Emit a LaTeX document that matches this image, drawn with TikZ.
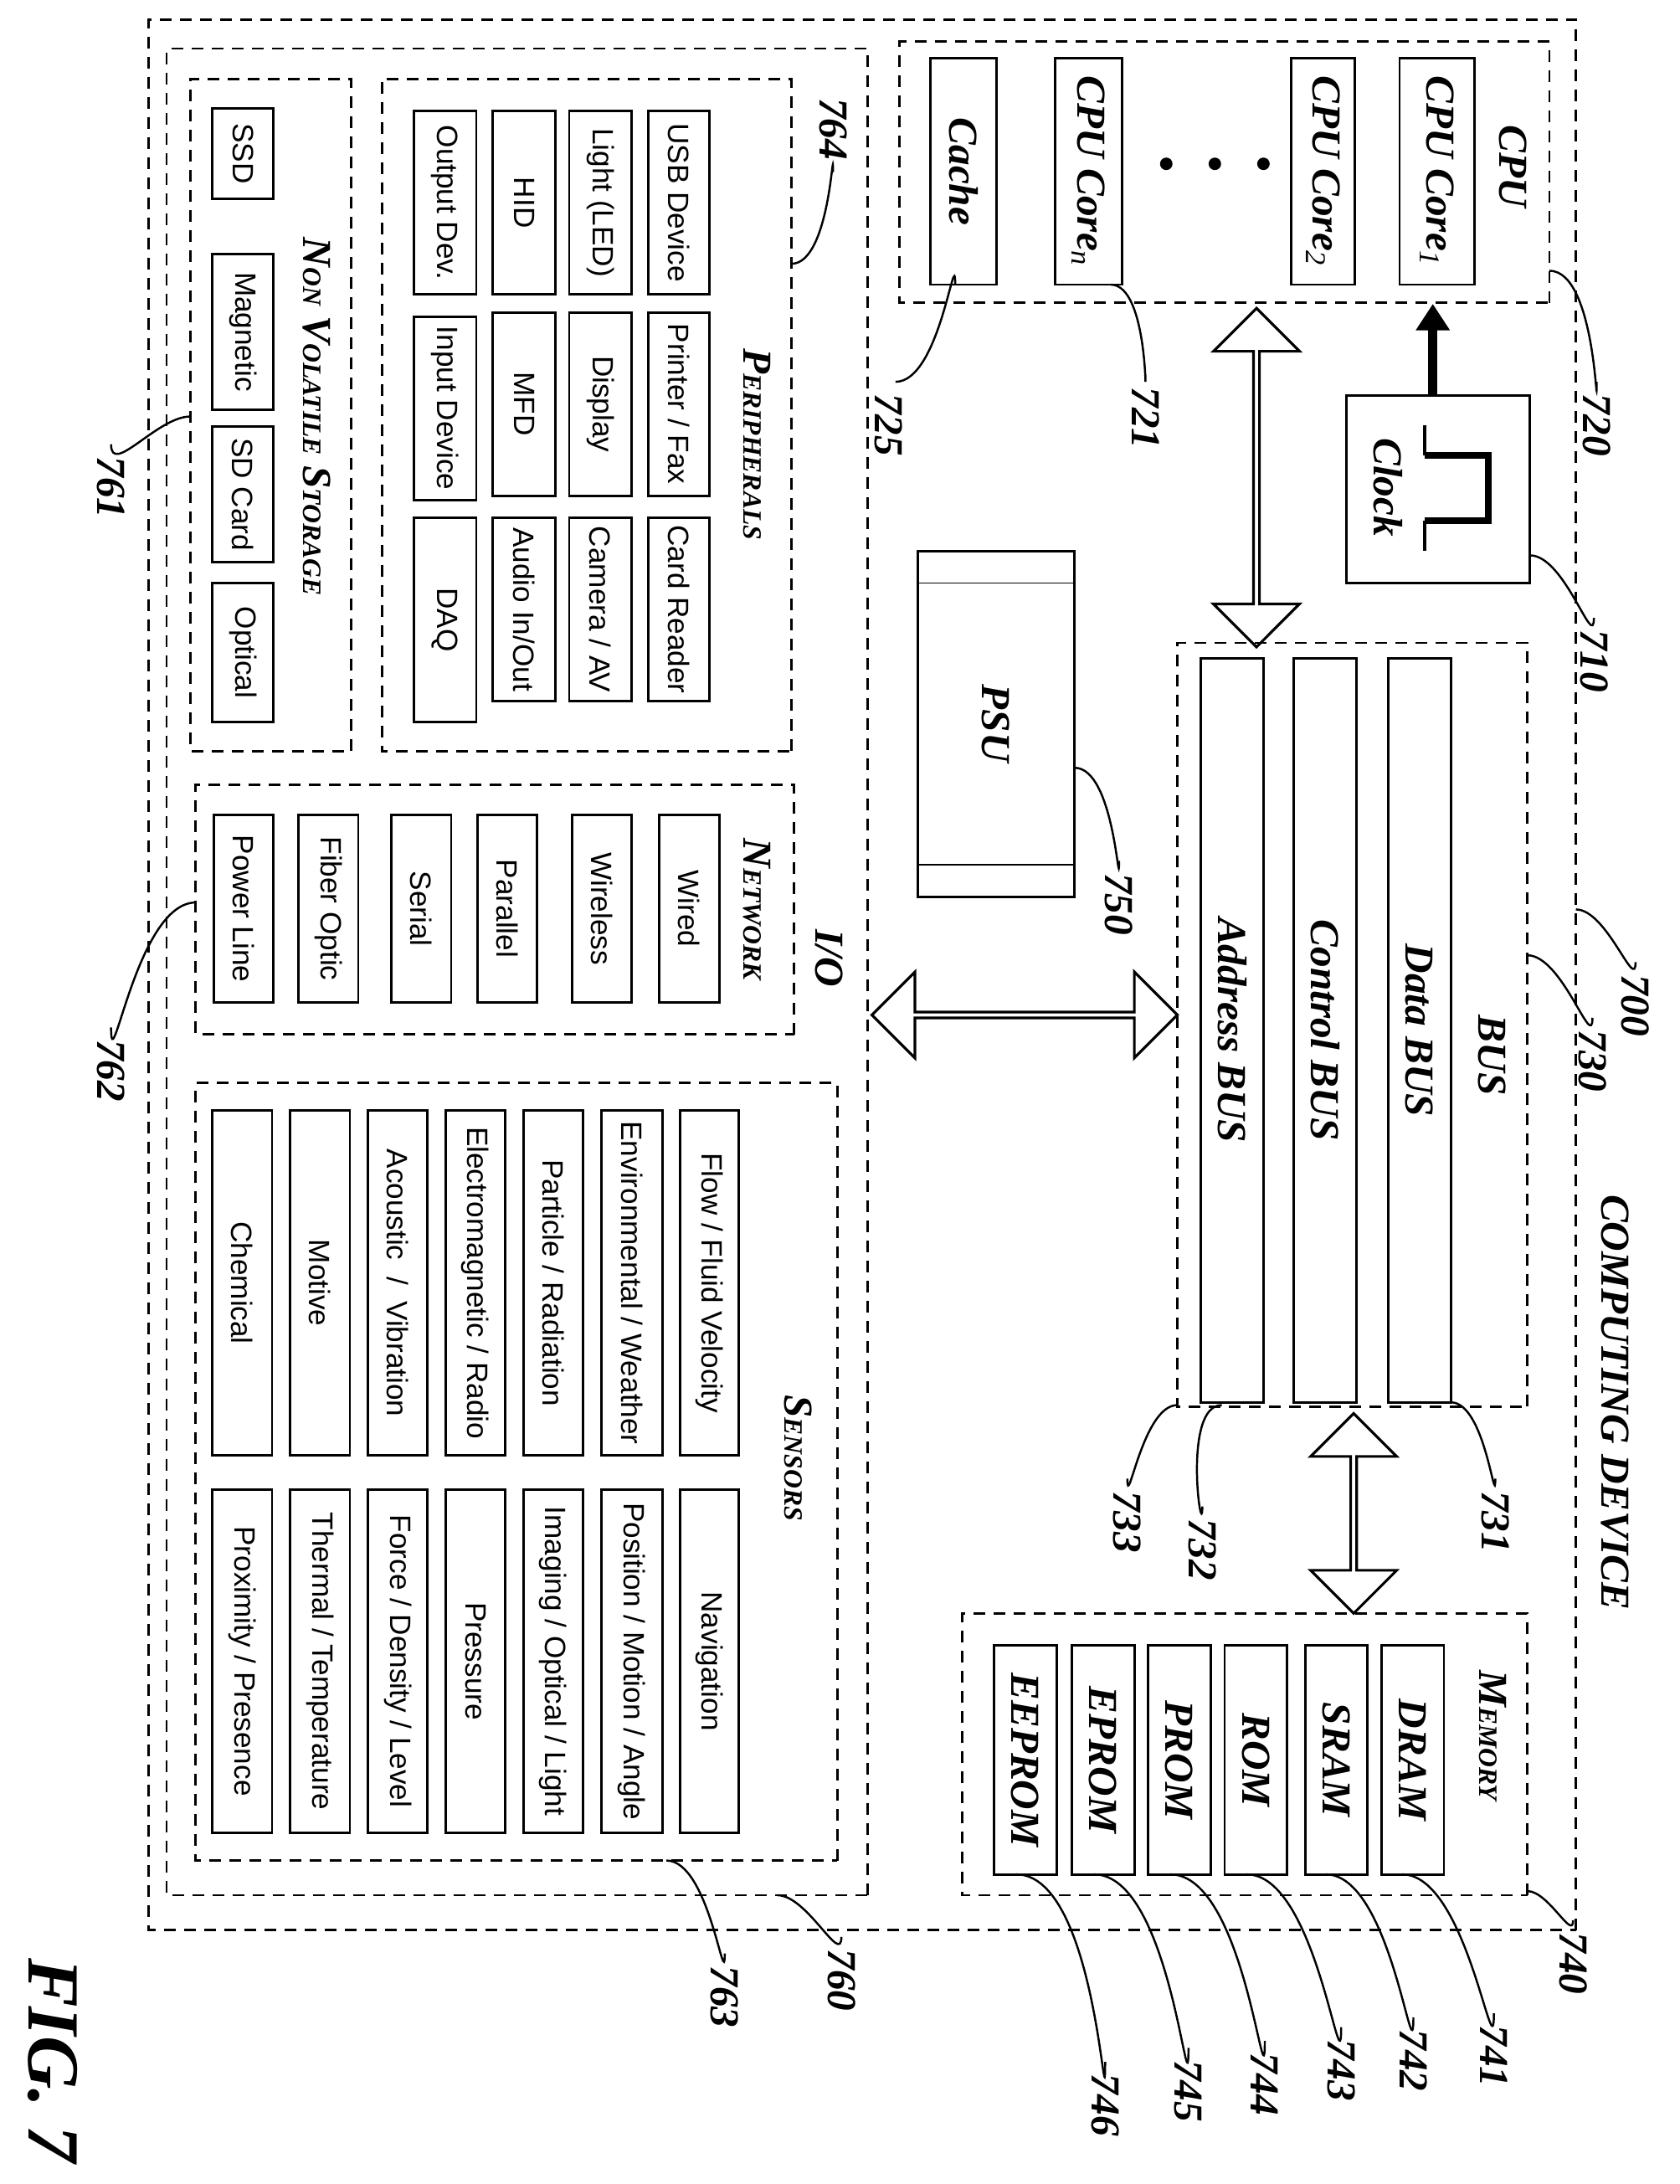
\documentclass[tikz,border=0pt]{standalone}
\usepackage{fontspec}
\setmainfont{Liberation Serif}
\newfontfamily\arialf{Liberation Sans}
\usetikzlibrary{shapes,arrows,arrows.meta,positioning}

\def\u{0.01659cm}
% box from page corners (x1,y1) (x2,y2), text reading downward
\newcommand\bx[7][box]{\node[#1, minimum width={(#6-#4)*\u}, minimum height={(#5-#3)*\u}] (#2) at ({(#3+#5)/2},{(#4+#6)/2}) {#7};}
\newcommand\sct[2]{\textit{\textbf{#1{\small #2}}}}

\begin{document}
\begin{tikzpicture}[
    x=0.01659cm, y=-0.01659cm,
    box/.style={rectangle, draw, line width=0.8pt, rotate=-90, inner sep=0pt, align=center, font=\arialf\fontsize{10}{12}\selectfont},
    bold/.style={box, font=\bfseries\itshape\fontsize{14}{16}\selectfont},
    grp/.style={rectangle, draw, line width=0.8pt, rotate=-90, inner sep=0pt, dash pattern=on 0.14cm off 0.1cm},
    ttl/.style={rotate=-90, font=\bfseries\itshape\fontsize{14}{16}\selectfont},
    num/.style={rotate=-90, anchor=west, inner sep=4pt, font=\bfseries\itshape\fontsize{14}{16}\selectfont},
    lead/.style={line width=0.7pt},
    dbl/.style={double arrow, draw, line width=0.9pt, minimum width=62*\u, double arrow head extend=13*\u, inner sep=0pt}
]
\useasboundingbox (0,0) rectangle (1210,1573);

% frames
\bx[grp]{dev}{107}{14}{1135}{1390}{}
\bx[grp]{io}{120}{35}{625}{1365}{}
\bx[grp]{nvs}{137}{57}{253}{541}{}
\bx[grp]{peri}{275}{57}{570}{541}{}
\bx[grp]{net}{141}{565}{572}{745}{}
\bx[grp]{sens}{141}{780}{603}{1340}{}
\bx[grp]{cpu}{648}{30}{1116}{218}{}
\bx[grp]{bus}{848}{463}{1100}{1013}{}
\bx[grp]{mem}{693}{1162}{1100}{1365}{}

% titles
\node[ttl] (t_dev) at (1163,1010) {COMPUTING DEVICE};
\node[ttl] (t_io) at (597,690) {I/O};
\node[ttl] (t_nvs) at (228,300) {\sct{N}{ON} \sct{V}{OLATILE} \sct{S}{TORAGE}};
\node[ttl] (t_peri) at (545,320) {\sct{P}{ERIPHERALS}};
\node[ttl] (t_net) at (545,655) {\sct{N}{ETWORK}};
\node[ttl] (t_sens) at (575,1050) {\sct{S}{ENSORS}};
\node[ttl] (t_cpu) at (1090,120) {CPU};
\node[ttl] (t_bus) at (1075,760) {BUS};
\node[ttl] (t_mem) at (1075,1250) {\sct{M}{EMORY}};

% non volatile storage
\bx{ssd}{153}{78}{197}{143}{SSD}
\bx{mag}{153}{183}{197}{295}{Magnetic}
\bx{sdc}{153}{307}{197}{405}{SD Card}
\bx{opt}{153}{420}{197}{520}{Optical}

% peripherals
\bx{usb}{467}{80}{511}{212}{USB Device}
\bx{prn}{467}{225}{511}{357}{Printer / Fax}
\bx{crd}{467}{373}{511}{505}{Card Reader}
\bx{led}{410}{80}{455}{212}{Light (LED)}
\bx{dsp}{410}{225}{455}{357}{Display}
\bx{cam}{410}{373}{455}{505}{Camera / AV}
\bx{hid}{355}{80}{400}{212}{HID}
\bx{mfd}{355}{225}{400}{357}{MFD}
\bx{aud}{355}{373}{400}{505}{Audio In/Out}
\bx{odv}{298}{80}{343}{212}{Output Dev.}
\bx{idv}{298}{228}{343}{360}{Input Device}
\bx{daq}{298}{373}{343}{520}{DAQ}

% network
\bx{wrd}{475}{587}{518}{722}{Wired}
\bx{wls}{412}{587}{455}{722}{Wireless}
\bx{par}{344}{587}{387}{722}{Parallel}
\bx{ser}{282}{587}{325}{722}{Serial}
\bx{fib}{215}{587}{258}{722}{Fiber Optic}
\bx{pwl}{154}{587}{197}{722}{Power Line}

% sensors
\bx{flow}{490}{800}{532}{1048}{Flow / Fluid Velocity}
\bx{navi}{490}{1073}{532}{1320}{Navigation}
\bx{envi}{433}{800}{477}{1048}{Environmental / Weather}
\bx{posi}{433}{1073}{477}{1320}{Position / Motion / Angle}
\bx{part}{377}{800}{420}{1048}{Particle / Radiation}
\bx{imag}{377}{1073}{420}{1320}{Imaging / Optical / Light}
\bx{elec}{321}{800}{364}{1048}{Electromagnetic / Radio}
\bx{pres}{321}{1073}{364}{1320}{Pressure}
\bx{acou}{265}{800}{308}{1048}{Acoustic~ / ~Vibration}
\bx{forc}{265}{1073}{308}{1320}{Force / Density / Level}
\bx{moti}{209}{800}{252}{1048}{Motive}
\bx{ther}{209}{1073}{252}{1320}{Thermal / Temperature}
\bx{chem}{153}{800}{196}{1048}{Chemical}
\bx{prox}{153}{1073}{196}{1320}{Proximity / Presence}

% CPU
\bx[bold]{core1}{1008}{42}{1062}{205}{CPU Core$_{\mathit 1}$}
\bx[bold]{core2}{930}{42}{976}{205}{CPU Core$_{\mathit 2}$}
\bx[bold]{coren}{760}{42}{808}{205}{CPU Core$_{\mathit n}$}
\bx[bold]{cache}{670}{42}{718}{205}{Cache}
\foreach \d in {840,875,910} \fill (\d,118) circle (4.5);

% clock
\bx[bold]{clk}{970}{285}{1102}{420}{}
\node[ttl] (t_clk) at (1000,351) {Clock};
\draw[line width=2.2pt] (1026,328) -- (1072,328) -- (1072,375) -- (1026,375);
\draw[line width=1.2pt] (1026,306) -- (1026,328) (1026,375) -- (1026,397);
\coordinate (ckin) at (1032,285);
\draw[line width=3pt, -{Triangle[length=9pt,width=11pt]}] (ckin) -- (ckin |- cpu.east);

% PSU
\bx{psu}{661}{397}{774}{646}{}
\node[ttl] (t_psu) at (717,521) {PSU};
\draw[line width=0.5pt] (661,420) -- (774,420) (661,623) -- (774,623);

% bus
\bx[bold]{dbus}{1000}{474}{1045}{1010}{Data BUS}
\bx[bold]{cbus}{932}{474}{977}{1010}{Control BUS}
\bx[bold]{abus}{865}{474}{910}{1010}{Address BUS}

% memory
\bx[bold]{dram}{995}{1185}{1040}{1350}{DRAM}
\bx[bold]{sram}{940}{1185}{985}{1350}{SRAM}
\bx[bold]{rom}{882}{1185}{927}{1350}{ROM}
\bx[bold]{prom}{827}{1185}{872}{1350}{PROM}
\bx[bold]{eprom}{772}{1185}{817}{1350}{EPROM}
\bx[bold]{eeprom}{716}{1185}{761}{1350}{EEPROM}

% double arrows
\node[dbl, minimum height=220*\u] (a_io) at (738,731) {};
\node[dbl, rotate=90, minimum height=244*\u] (a_cpu) at (905,344) {};
\node[dbl, rotate=90, minimum height=144*\u] (a_mem) at (975,1090) {};

% reference numerals (at the free end of each leader)
\node[num] (n700) at (1178,693) {700};
\node[num] (n720) at (1150,275) {720};
\node[num] (n710) at (1148,445) {710};
\node[num] (n730) at (1147,733) {730};
\node[num] (n731) at (1077,1065) {731};
\node[num] (n732) at (866,1085) {732};
\node[num] (n733) at (812,1065) {733};
\node[num] (n740) at (1133,1383) {740};
\node[num] (n741) at (1076,1450) {741};
\node[num] (n742) at (1018,1453) {742};
\node[num] (n743) at (966,1460) {743};
\node[num] (n744) at (911,1470) {744};
\node[num] (n745) at (856,1475) {745};
\node[num] (n746) at (796,1485) {746};
\node[num] (n760) at (606,1395) {760};
\node[num] (n763) at (522,1407) {763};
\node[num, anchor=east] (n764) at (600,124) {764};
\node[num] (n721) at (825,270) {721};
\node[num] (n725) at (640,275) {725};
\node[num] (n750) at (806,620) {750};
\node[num] (n761) at (80,320) {761};
\node[num] (n762) at (80,740) {762};
\node[rotate=-90, font=\bfseries\itshape\fontsize{25}{27}\selectfont] (fig) at (38,1484) {FIG. 7};

% leaders
\draw[lead] (1135,655) to[out=0,in=-90] (n700.west);
\draw[lead] (1116,195) to[out=0,in=-90] (n720.west);
\draw[lead] (1102,400) to[out=0,in=-90] (n710.west);
\draw[lead] (1100,688) to[out=0,in=-90] (n730.west);
\draw[lead] (1045,1010) to[out=0,in=-90] (n731.west);
\draw[lead] (880,1012) to[out=180,in=-90] (n732.west);
\draw[lead] (848,1012) to[out=180,in=-90] (n733.west);
\draw[lead] (1100,1362) to[out=0,in=-90] (n740.west);
\draw[lead] (1010,1350) to[out=0,in=-90] (n741.west);
\draw[lead] (955,1350) to[out=0,in=-90] (n742.west);
\draw[lead] (898,1350) to[out=0,in=-90] (n743.west);
\draw[lead] (843,1350) to[out=0,in=-90] (n744.west);
\draw[lead] (788,1350) to[out=0,in=-90] (n745.west);
\draw[lead] (732,1350) to[out=0,in=-90] (n746.west);
\draw[lead] (560,1365) to[out=0,in=-90] (n760.west);
\draw[lead] (480,1340) to[out=0,in=-90] (n763.west);
\draw[lead] (570,190) to[out=0,in=90] (n764.east);
\draw[lead] (800,205) to[out=0,in=-90] (n721.west);
\draw[lead] (688,205) to[out=90,in=0] ([xshift=5*\u]n725.west);
\draw[lead] (774,553) to[out=0,in=-90] (n750.west);
\draw[lead] (137,300) to[out=180,in=-90] (n761.west);
\draw[lead] (141,650) to[out=180,in=-90] (n762.west);

\end{tikzpicture}
\end{document}
